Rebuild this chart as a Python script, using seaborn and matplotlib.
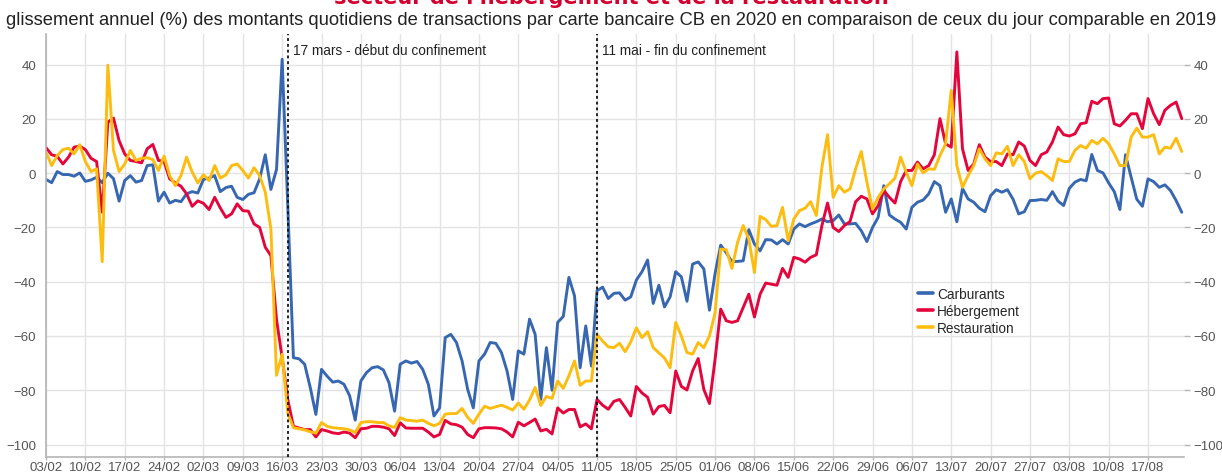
import pandas as pd
import numpy as np
import seaborn as sns
import matplotlib
matplotlib.use("Agg")
import matplotlib.pyplot as plt
import matplotlib.dates as mdates

### data: glissement annuel (%) des montants quotidiens CB, 03/02 -> 23/08/2020
start_date = "2020-02-03"

carburants = [
    -2.3, -3.5, 0.6, -0.5, -0.5, -1.1, 0.1, -3.0, -2.5, -1.5,
    -3.5, 0.0, -2.0, -10.3, -2.7, -0.9, -3.3, -2.7, 2.8, 3.1,
    -10.3, -7.0, -11.0, -10.0, -10.5, -7.6, -6.8, -7.3, -2.3, -1.8,
    -0.9, -6.8, -5.3, -4.8, -8.9, -9.7, -7.8, -7.2, -2.1, 6.8,
    -6.0, 1.4, 42.0, -12.0, -68.0, -68.4, -70.4, -79.0, -88.9, -72.3,
    -74.8, -77.0, -76.6, -77.8, -82.0, -91.0, -76.6, -73.5, -71.7, -71.3,
    -72.5, -77.2, -87.7, -70.4, -69.2, -70.0, -69.4, -72.3, -77.8, -89.5,
    -86.5, -60.6, -59.4, -62.4, -69.2, -79.7, -86.5, -69.2, -66.7, -62.4,
    -62.7, -66.1, -72.9, -83.4, -65.5, -66.7, -53.8, -59.4, -83.4, -64.3,
    -80.0, -55.0, -52.8, -38.4, -45.2, -71.7, -56.3, -71.1, -43.3, -42.0,
    -46.2, -44.3, -44.1, -46.8, -45.6, -39.4, -36.3, -32.0, -48.0, -41.3,
    -49.3, -45.6, -36.3, -38.2, -47.2, -33.5, -32.7, -35.3, -50.5, -37.0,
    -26.5, -29.4, -32.6, -32.5, -32.3, -20.8, -26.1, -28.6, -24.5, -24.6,
    -26.1, -24.5, -26.1, -20.6, -18.7, -19.7, -18.7, -17.9, -16.9, -17.9,
    -17.5, -15.4, -18.7, -18.7, -18.5, -21.2, -25.2, -20.0, -16.3, -4.6,
    -15.4, -16.9, -18.1, -20.6, -12.6, -10.7, -9.9, -7.6, -3.1, -4.6,
    -14.4, -9.5, -17.9, -5.6, -9.5, -10.7, -12.9, -14.2, -8.3, -6.1,
    -7.0, -6.1, -9.6, -15.0, -14.2, -10.1, -10.0, -9.7, -10.0, -6.8,
    -10.3, -11.9, -5.6, -3.3, -2.3, -2.8, 6.9, 1.0, 0.1, -3.6,
    -6.8, -13.4, 6.8, -1.5, -9.6, -12.2, -2.1, -3.1, -5.2, -4.3,
    -6.4, -10.1, -14.4,
]

hebergement = [
    9.4, 6.8, 6.2, 3.4, 5.9, 9.6, 10.0, 8.7, 5.5, 4.3,
    -14.4, 18.8, 20.3, 12.0, 7.1, 4.7, 4.3, 3.8, 9.0, 10.6,
    4.7, 4.3, -2.1, -3.6, -4.8, -7.6, -12.2, -10.2, -11.1, -13.4,
    -8.9, -12.8, -16.3, -15.0, -11.3, -13.8, -14.0, -18.7, -20.0, -27.3,
    -30.4, -54.0, -68.0, -83.4, -93.3, -93.9, -94.5, -94.5, -97.2, -94.5,
    -95.0, -95.7, -96.0, -95.4, -95.8, -97.5, -94.2, -94.0, -93.3, -93.3,
    -93.6, -94.2, -96.7, -92.0, -93.9, -94.0, -94.0, -94.0, -95.4, -97.2,
    -96.3, -91.1, -92.4, -92.7, -93.6, -96.3, -97.5, -94.2, -93.8, -93.8,
    -93.9, -94.2, -95.4, -97.2, -91.8, -93.1, -91.9, -90.6, -95.0, -94.4,
    -96.1, -86.5, -88.4, -87.1, -87.1, -93.5, -92.4, -94.2, -83.4, -85.5,
    -87.0, -84.1, -83.4, -86.3, -89.5, -78.6, -81.0, -82.6, -88.8, -86.0,
    -85.6, -88.3, -72.9, -78.6, -79.9, -72.9, -68.3, -79.7, -84.9, -68.6,
    -50.1, -54.4, -55.0, -54.4, -49.5, -44.6, -53.0, -44.6, -40.5, -40.9,
    -41.3, -35.1, -38.4, -31.0, -31.6, -32.8, -31.0, -30.1, -19.3, -11.0,
    -20.0, -21.5, -19.3, -17.8, -10.5, -8.5, -9.5, -15.0, -12.0, -6.4,
    -8.9, -11.0, -3.1, 1.0, 1.0, 4.1, 1.6, 2.8, 6.8, 20.1,
    10.8, 9.6, 44.7, 9.0, 1.0, 3.4, 10.5, 5.9, 4.3, 4.3,
    2.8, 7.1, 6.8, 11.5, 10.0, 4.7, 2.8, 6.8, 7.8, 11.5,
    17.0, 14.2, 13.7, 14.5, 18.2, 18.6, 26.5, 25.6, 27.5, 27.7,
    18.2, 17.4, 19.5, 21.9, 21.9, 16.4, 27.5, 21.9, 17.9, 23.2,
    25.0, 26.2, 20.1,
]

restauration = [
    7.8, 2.8, 6.5, 8.7, 9.2, 7.1, 10.5, 4.3, 0.6, 1.6,
    -32.6, 39.8, 8.4, 0.6, 3.4, 8.4, 4.7, 5.5, 5.7, 5.0,
    1.0, 6.3, -0.9, -4.6, -0.9, 5.9, 0.4, -3.6, -0.6, -2.7,
    2.8, -1.8, -0.6, 2.8, 3.4, 1.0, -1.8, 2.0, -0.9, -7.0,
    -20.6, -74.5, -66.7, -88.5, -93.8, -94.2, -94.6, -95.3, -95.8, -91.9,
    -93.3, -93.8, -94.0, -94.2, -94.6, -95.6, -91.9, -91.6, -91.6, -91.9,
    -91.9, -93.1, -93.7, -90.1, -91.0, -91.2, -91.4, -91.0, -92.2, -93.1,
    -92.2, -88.8, -88.6, -88.6, -86.7, -90.0, -92.2, -88.8, -85.9, -86.7,
    -86.1, -85.5, -86.3, -87.3, -84.7, -87.0, -83.6, -79.0, -85.6, -82.3,
    -83.0, -76.6, -79.3, -74.7, -69.2, -78.2, -76.6, -76.6, -59.4, -61.9,
    -64.0, -64.3, -62.7, -65.8, -62.2, -57.0, -60.6, -58.4, -64.3, -66.2,
    -68.1, -71.7, -55.0, -60.0, -66.1, -66.7, -62.4, -64.3, -60.0, -51.4,
    -28.0, -28.2, -35.1, -25.5, -19.3, -24.3, -36.6, -15.9, -17.1, -19.6,
    -19.3, -12.6, -24.9, -16.9, -13.8, -12.9, -10.5, -15.6, 2.2, 14.2,
    -8.9, -4.6, -7.0, -5.8, 1.6, 8.0, -3.3, -13.2, -8.9, -5.8,
    -3.9, -1.8, 5.9, 0.4, -4.6, 3.4, 0.1, 1.6, 1.4, 6.5,
    10.8, 30.5, 2.8, -5.2, -0.9, 2.8, 9.0, 5.3, 2.8, 7.5,
    7.1, 9.9, 2.8, 6.8, 4.3, -2.1, 0.0, 0.6, -0.9, -2.7,
    5.3, 4.3, 4.3, 8.4, 10.2, 9.2, 12.1, 10.8, 12.9, 10.8,
    7.1, 2.8, 2.8, 13.3, 16.6, 13.3, 13.3, 14.2, 7.1, 9.6,
    9.2, 12.9, 8.0,
]

series_names = ["Carburants", "Hébergement", "Restauration"]
series_colors = ["#3767b1", "#e3053b", "#fdbd10"]
events = [("2020-03-17", "17 mars - début du confinement"),
          ("2020-05-11", "11 mai - fin du confinement")]

title = "secteur de l'hébergement et de la restauration"
subtitle = ("glissement annuel (%) des montants quotidiens de transactions par carte "
            "bancaire CB en 2020 en comparaison de ceux du jour comparable en 2019")


def build_frame():
    dates = pd.date_range(start_date, periods=len(carburants), freq="D")
    frames = []
    for name, values in zip(series_names, [carburants, hebergement, restauration]):
        frames.append(pd.DataFrame({"date": dates, "valeur": values, "secteur": name}))
    return pd.concat(frames, ignore_index=True), dates


def fit_width(fig, txt, target_px):
    # scale the font so the text takes the same width as in the reference
    fig.canvas.draw()
    w = txt.get_window_extent().width
    txt.set_fontsize(txt.get_fontsize() * target_px / w)


def main():
    df, dates = build_frame()

    sns.set_style("whitegrid")
    plt.rcParams["font.family"] = ["Liberation Sans", "DejaVu Sans"]

    fig = plt.figure(figsize=(12.22, 4.77), dpi=100)
    ax = fig.add_axes([46 / 1222, 1 - 458 / 477, (1184 - 46) / 1222, (458 - 35) / 477])

    sns.lineplot(data=df, x="date", y="valeur", hue="secteur",
                 palette=dict(zip(series_names, series_colors)),
                 linewidth=2.1, ax=ax)

    # axes limits / ticks
    d0 = pd.Timestamp(start_date)
    ax.set_xlim(d0, d0 + pd.Timedelta(days=202.4))
    ax.set_ylim(-104.6, 51.3)
    ax.set_yticks(np.arange(-100, 41, 20))
    ax.set_xticks(pd.date_range(start_date, "2020-08-17", freq="7D"))
    ax.xaxis.set_major_formatter(mdates.DateFormatter("%d/%m"))
    ax.set_xlabel("")
    ax.set_ylabel("")

    ax.grid(True, color="#e3e3e3", linewidth=1)
    for side in ["top", "right"]:
        ax.spines[side].set_visible(False)
    for side in ["left", "bottom"]:
        ax.spines[side].set_visible(True)
        ax.spines[side].set_color("#b5b5b5")
        ax.spines[side].set_linewidth(1.2)

    ax.tick_params(axis="both", which="both", width=1, color="#b5b5b5",
                   labelsize=9.5, labelcolor="#555555")
    ax.tick_params(axis="y", length=4, right=True, labelright=True, pad=3)
    ax.tick_params(axis="x", length=2.5, bottom=True, pad=0.5)

    # confinement markers
    for day, label in events:
        ax.axvline(pd.Timestamp(day), color="#111111", linestyle=(0, (1.6, 1.6)),
                   linewidth=1.3, zorder=5)
        ax.annotate(label, xy=(pd.Timestamp(day), 1), xycoords=("data", "axes fraction"),
                    xytext=(3.8, -11.5), textcoords="offset points",
                    ha="left", va="center", fontsize=9.8, color="#222222")

    # legend
    handles, labels = ax.get_legend_handles_labels()
    leg = ax.legend(handles, labels, loc="upper left", bbox_to_anchor=(0.766, 0.403),
                    frameon=False, fontsize=9.8, handlelength=1.1, handletextpad=0.3,
                    labelspacing=0.22, borderpad=0, borderaxespad=0)
    for line in leg.get_lines():
        line.set_linewidth(2.6)

    # titles (the red title is cut by the top of the picture)
    t = fig.text(0.5, 1 - 4 / 477, title, ha="center", va="baseline",
                 fontsize=15, fontweight="bold", color="#d4002e",
                 family=["DejaVu Sans"])
    fit_width(fig, t, 555)
    st = fig.text(0.5, 1 - 25 / 477, subtitle, ha="center", va="baseline",
                  fontsize=11, color="#222222", family=["Liberation Sans"])
    fit_width(fig, st, 1208)

    fig.savefig("out.png", dpi=100)


if __name__ == "__main__":
    main()
